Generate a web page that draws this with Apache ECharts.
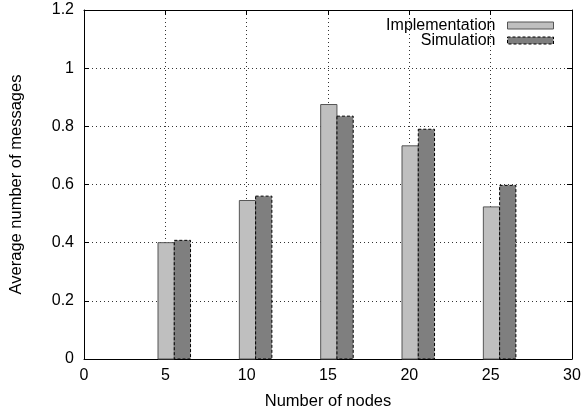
<!DOCTYPE html>
<html>
<head>
<meta charset="utf-8">
<script src="https://cdn.jsdelivr.net/npm/echarts@6/dist/echarts.min.js"></script>
<style>html,body{margin:0;padding:0;background:#fff}#c{width:585px;height:415px}</style>
</head>
<body>
<div id="c"></div>
<script>
const nodes = [5, 10, 15, 20, 25];
const implementation = [0.40, 0.545, 0.875, 0.733, 0.523];
const simulation = [0.408, 0.56, 0.835, 0.79, 0.597];
const xTicks = [0, 5, 10, 15, 20, 25, 30];
const yTicks = [0, 0.2, 0.4, 0.6, 0.8, 1, 1.2];

const FONT = 'Liberation Sans, Arial, sans-serif';
const chart = echarts.init(document.getElementById('c'), null, {renderer: 'canvas'});

function barRenderer(offLeft, offRight) {
  return function (params, api) {
    const x = api.value(0), y = api.value(1);
    const p0 = api.coord([x + offLeft, y]);
    const p1 = api.coord([x + offRight, 0]);
    return {
      type: 'rect',
      shape: {x: p0[0], y: p0[1], width: p1[0] - p0[0], height: p1[1] - p0[1]},
      style: api.style()
    };
  };
}

const implStyle = {color: '#bfbfbf', borderColor: '#555555', borderWidth: 1};
const simStyle = {color: '#7f7f7f', borderColor: '#000000', borderWidth: 1, borderType: [3, 2]};

const axisCommon = {
  type: 'value', min: 0,
  axisLine: {show: true, onZero: false, lineStyle: {color: '#000', width: 1}},
  axisTick: {show: true, inside: true, length: 5, lineStyle: {color: '#000'}},
};

chart.setOption({
  animation: false,
  backgroundColor: '#fff',
  textStyle: {fontFamily: FONT},
  grid: {left: 83.5, right: 13, top: 10, bottom: 52, containLabel: false},
  legend: {
    orient: 'vertical', align: 'right', right: 26, top: 12.5,
    itemWidth: 46, itemHeight: 7, itemGap: -1, icon: 'rect',
    textStyle: {fontSize: 16, color: '#000', fontFamily: FONT, lineHeight: 16, padding: [0, 7, 0, 0]},
    data: [
      {name: 'Implementation', itemStyle: implStyle},
      {name: 'Simulation', itemStyle: simStyle}
    ]
  },
  xAxis: [
    Object.assign({}, axisCommon, {
      position: 'bottom', max: 30, interval: 5,
      name: 'Number of nodes', nameLocation: 'middle', nameGap: 34,
      nameTextStyle: {fontSize: 16.5, color: '#000', fontFamily: FONT},
      axisLabel: {fontSize: 16, color: '#000', margin: 9, fontFamily: FONT,
        formatter: v => xTicks.includes(v) ? String(v) : ''},
      splitLine: {show: true, lineStyle: {color: '#333', type: [1, 3], width: 1}}
    }),
    Object.assign({}, axisCommon, {
      position: 'top', max: 30, interval: 5,
      axisLabel: {show: false}, splitLine: {show: false}
    })
  ],
  yAxis: [
    Object.assign({}, axisCommon, {
      position: 'left', max: 1.2, interval: 0.2,
      name: 'Average number of messages', nameLocation: 'middle', nameGap: 59,
      nameTextStyle: {fontSize: 16.5, color: '#000', fontFamily: FONT},
      axisLabel: {fontSize: 16, color: '#000', margin: 10, fontFamily: FONT,
        formatter: v => { const t = yTicks.find(k => Math.abs(k - v) < 1e-9); return t === undefined ? '' : String(t); }},
      splitLine: {show: true, lineStyle: {color: '#333', type: [1, 3], width: 1}}
    }),
    Object.assign({}, axisCommon, {
      position: 'right', max: 1.2, interval: 0.2,
      axisLabel: {show: false}, splitLine: {show: false}
    })
  ],
  series: [
    {
      name: 'Implementation', type: 'custom',
      renderItem: barRenderer(-0.45, 0.55),
      itemStyle: implStyle,
      encode: {x: 0, y: 1},
      data: nodes.map((n, i) => [n, implementation[i]]),
      z: 3
    },
    {
      name: 'Simulation', type: 'custom',
      renderItem: barRenderer(0.55, 1.55),
      itemStyle: simStyle,
      encode: {x: 0, y: 1},
      data: nodes.map((n, i) => [n, simulation[i]]),
      z: 3
    }
  ]
});
</script>
</body>
</html>
